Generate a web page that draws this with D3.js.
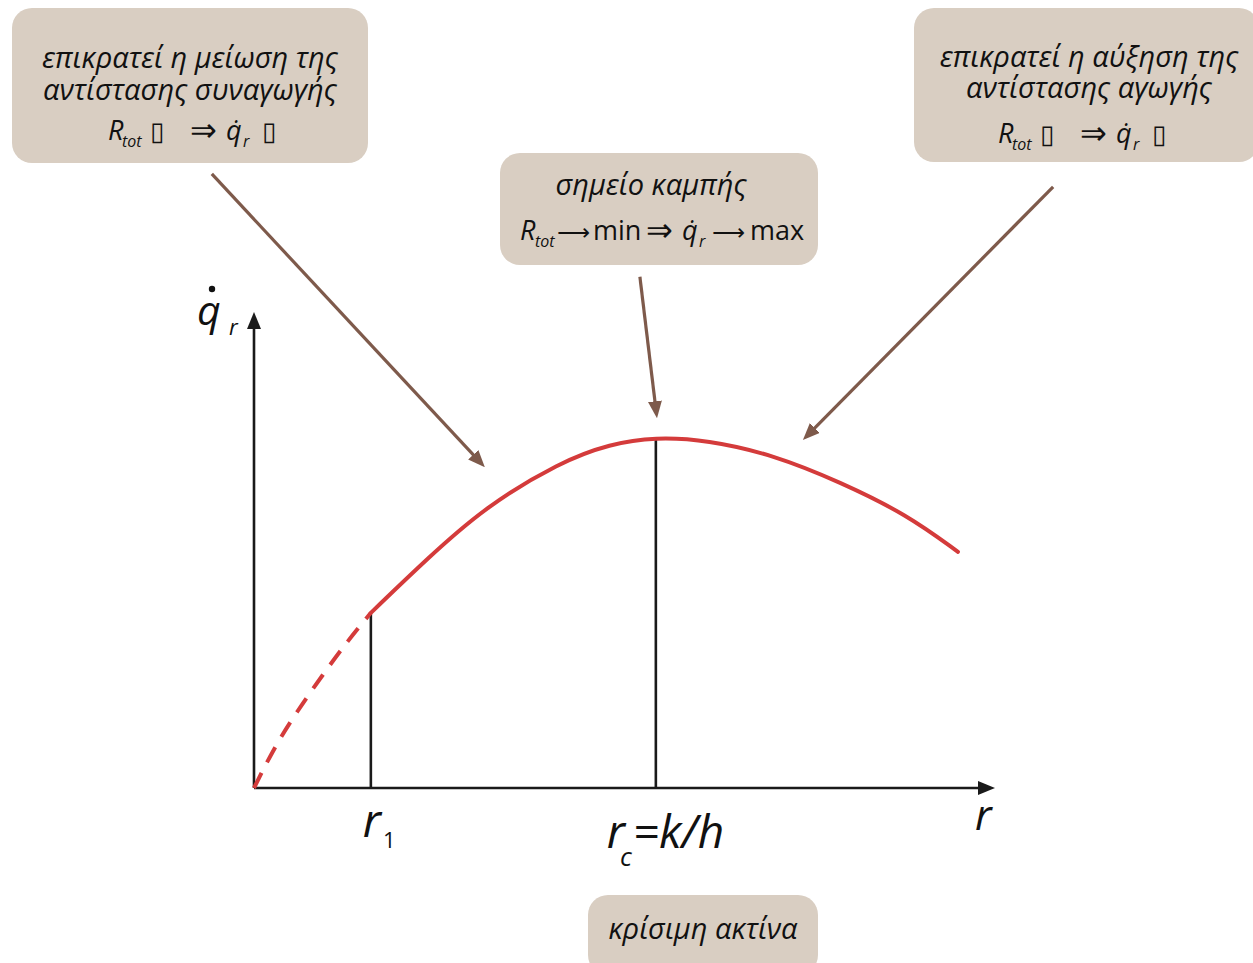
<!DOCTYPE html>
<html>
<head>
<meta charset="utf-8">
<script src="https://cdn.jsdelivr.net/npm/d3@7"></script>
<style>
  html, body { margin: 0; padding: 0; background: #fff; }
  svg { display: block; }
  text { font-family: "Open Sans", "Noto Sans", sans-serif; fill: #111; }
</style>
</head>
<body>
<svg id="graph"></svg>
<script>
// curve data (r, q)
var rDashed = [0, 0.35, 0.75, 1.2, 1.65, 2.05];
var qDashed = [0, 8.4, 16, 23.7, 31, 36.8];
var rSolid = [2.05, 3.04, 4.05, 5.37, 6.25, 7.04, 7.95, 9.11, 10.28, 11.46, 12.35];
var qSolid = [36.8, 48.2, 59.0, 68.5, 72.3, 73.7, 73.1, 70.0, 64.3, 57.4, 49.6];

// marked radii
var markR = [2.05, 7.05];
var markQ = [36.8, 73.5];

// annotation arrows, start and tip in data units
var arrowFrom = [[-0.74, 129], [6.77, 107.4], [14.02, 126.3]];
var arrowTo = [[4.05, 67.4], [7.07, 77.7], [9.63, 73.1]];

var width = 1253, height = 963;
var svg = d3.select("#graph").attr("width", width).attr("height", height);

var x = d3.scaleLinear().domain([0, 13]).range([254, 995]);
var y = d3.scaleLinear().domain([0, 100]).range([788, 312]);

var defs = svg.append("defs");
function marker(id, color, len, wid) {
    defs.append("marker")
        .attr("id", id)
        .attr("viewBox", "0 0 " + len + " " + wid)
        .attr("refX", len - 10).attr("refY", wid / 2)
        .attr("markerUnits", "userSpaceOnUse")
        .attr("markerWidth", len).attr("markerHeight", wid)
        .attr("orient", "auto")
        .append("path")
        .attr("d", "M0,0 L" + len + "," + wid / 2 + " L0," + wid + " Z")
        .attr("fill", color);
}
marker("axhead", "#1a1a1a", 17, 14);
marker("brhead", "#7e5a4b", 17, 14);

// shorten a segment by 10px at its end so the marker tip lands on the point
function shortLine(x1, y1, x2, y2) {
    var dx = x2 - x1, dy = y2 - y1, L = Math.sqrt(dx * dx + dy * dy);
    return [x1, y1, x2 - dx / L * 10, y2 - dy / L * 10];
}

// boxes
var boxes = [
    {x: 12, y: 8, w: 356, h: 155},
    {x: 914, y: 8, w: 345, h: 154},
    {x: 500, y: 153, w: 318, h: 112},
    {x: 588, y: 895, w: 230, h: 80}
];
svg.selectAll("rect.box").data(boxes).enter().append("rect")
    .attr("class", "box")
    .attr("x", d => d.x).attr("y", d => d.y)
    .attr("width", d => d.w).attr("height", d => d.h)
    .attr("rx", 20).attr("ry", 20)
    .attr("fill", "#d9cec2");

// axes
var ax = shortLine(x(0), y(0), x(13), y(0));
svg.append("line").attr("x1", ax[0]).attr("y1", ax[1]).attr("x2", ax[2]).attr("y2", ax[3])
    .attr("stroke", "#1a1a1a").attr("stroke-width", 2.6).attr("marker-end", "url(#axhead)");
var ay = shortLine(x(0), y(0), x(0), y(100));
svg.append("line").attr("x1", ay[0]).attr("y1", ay[1]).attr("x2", ay[2]).attr("y2", ay[3])
    .attr("stroke", "#1a1a1a").attr("stroke-width", 2.6).attr("marker-end", "url(#axhead)");

// vertical markers
svg.selectAll("line.mark").data(markR).enter().append("line")
    .attr("class", "mark")
    .attr("x1", d => x(d)).attr("x2", d => x(d))
    .attr("y1", y(0)).attr("y2", (d, i) => y(markQ[i]))
    .attr("stroke", "#1a1a1a").attr("stroke-width", 2.6);

// curve
var line = d3.line().x(d => x(d[0])).y(d => y(d[1])).curve(d3.curveBasis);
svg.append("path")
    .datum(rDashed.map((r, i) => [r, qDashed[i]]))
    .attr("d", line)
    .attr("fill", "none").attr("stroke", "#d43b3b").attr("stroke-width", 4)
    .attr("stroke-dasharray", "17,12");
svg.append("path")
    .datum(rSolid.map((r, i) => [r, qSolid[i]]))
    .attr("d", line)
    .attr("fill", "none").attr("stroke", "#d43b3b").attr("stroke-width", 4)
    .attr("stroke-linecap", "round");

// annotation arrows
arrowFrom.forEach(function (a, i) {
    var s = shortLine(x(a[0]), y(a[1]), x(arrowTo[i][0]), y(arrowTo[i][1]));
    svg.append("line").attr("x1", s[0]).attr("y1", s[1]).attr("x2", s[2]).attr("y2", s[3])
        .attr("stroke", "#7e5a4b").attr("stroke-width", 3.2).attr("marker-end", "url(#brhead)");
});

// axis labels
svg.append("text").attr("x", 197).attr("y", 325).attr("font-size", 41).attr("font-style", "italic").text("q");
svg.append("circle").attr("cx", 212).attr("cy", 289).attr("r", 3.2).attr("fill", "#111");
svg.append("text").attr("x", 229).attr("y", 335).attr("font-size", 22).attr("font-style", "italic").text("r");
svg.append("text").attr("x", 975).attr("y", 830).attr("font-size", 42).attr("font-style", "italic").text("r");

var t1 = svg.append("text").attr("x", x(markR[0]) - 8).attr("y", 837).attr("font-size", 46);
t1.append("tspan").attr("font-style", "italic").text("r");
t1.append("tspan").attr("font-size", 22).attr("dy", 11).attr("dx", 2).text("1");

var t2 = svg.append("text").attr("x", x(markR[1]) - 49).attr("y", 848).attr("font-size", 46).attr("font-style", "italic");
t2.append("tspan").text("r");
t2.append("tspan").attr("font-size", 26).attr("dy", 18).attr("dx", -5).text("c");
t2.append("tspan").attr("dy", -18).attr("dx", 1).text("=k/h");

// box texts
function lines(cx, ys, arr) {
    arr.forEach(function (s, i) {
        svg.append("text").attr("x", cx).attr("y", ys[i]).attr("text-anchor", "middle")
            .attr("font-size", 29).attr("font-style", "italic").text(s);
    });
}
lines(190, [68, 100], ["επικρατεί η μείωση της", "αντίστασης συναγωγής"]);
lines(1089, [67, 98], ["επικρατεί η αύξηση της", "αντίστασης αγωγής"]);
lines(651, [195], ["σημείο καμπής"]);
lines(703, [939], ["κρίσιμη ακτίνα"]);

// formula pieces: text, x offset, baseline offset, size, italic, symbol font
var fPieces = [
    ["R", 0, 0, 27, true, false],
    ["tot", 14, 7, 16, true, false],
    ["\u25AF", 42, 0, 26, false, true],
    ["\u21D2", 82, 1, 32, false, true],
    ["q\u0307", 118, 0, 27, true, false],
    ["r", 135, 7, 16, true, false],
    ["\u25AF", 154, 0, 26, false, true]
];
var mPieces = [
    ["R", 0, 0, 27, true, false],
    ["tot", 15, 7, 16, true, false],
    ["\u27F6", 37, 0, 23, false, true],
    ["min", 73, 0, 27, false, false],
    ["\u21D2", 126, 1, 32, false, true],
    ["q\u0307", 162, 0, 27, true, false],
    ["r", 179, 7, 16, true, false],
    ["\u27F6", 192, 0, 23, false, true],
    ["max", 230, 0, 27, false, false]
];
function formula(x0, by, pieces) {
    var t = svg.append("text").attr("x", x0).attr("y", by);
    pieces.forEach(function (p) {
        var s = t.append("tspan").attr("x", x0 + p[1]).attr("y", by + p[2])
            .attr("font-size", p[3]).text(p[0]);
        if (p[4]) s.attr("font-style", "italic");
        if (p[5]) s.attr("font-family", "DejaVu Sans");
    });
}
formula(108, 140, fPieces);
formula(998, 143, fPieces);
formula(520, 240, mPieces);
</script>
</body>
</html>
